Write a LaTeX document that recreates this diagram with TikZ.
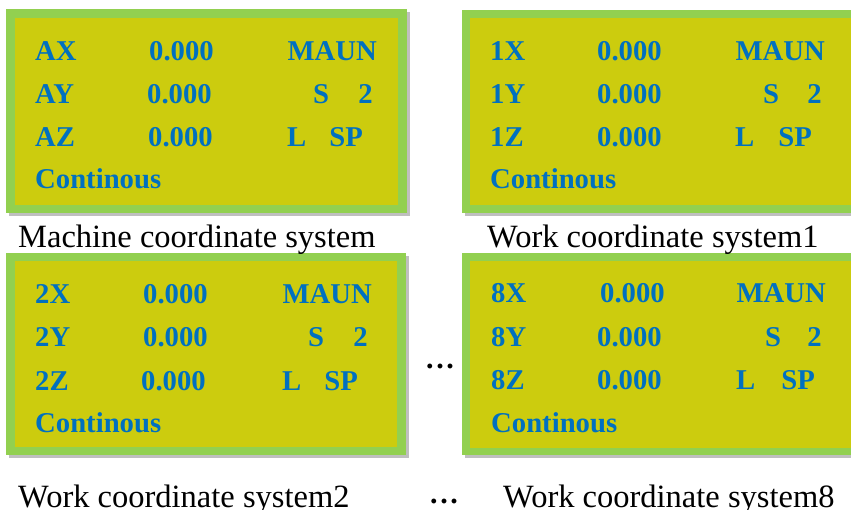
\documentclass[tikz,border=0pt]{standalone}
\usepackage{fontspec}
\setmainfont{Liberation Serif}
\definecolor{lcdbg}{HTML}{CCCC0E}
\definecolor{lcdframe}{HTML}{92D050}
\definecolor{lcdtext}{HTML}{0070C0}
\definecolor{lcdshadow}{HTML}{BFBFBF}
\tikzset{
  frame/.style={fill=lcdframe, draw=none},
  screen/.style={fill=lcdbg, draw=none},
  shadowbox/.style={fill=lcdshadow, draw=none},
  lcdt/.style={inner sep=0pt, text=lcdtext, font=\fontsize{28.7}{30}\selectfont\bfseries},
  captext/.style={inner sep=0pt, font=\fontsize{32.5}{34}\selectfont},
  dotstext/.style={inner sep=0pt, font=\fontsize{30}{32}\selectfont\bfseries},
}
\newcommand\mydots{.\kern2.6pt.\kern2.6pt.}
\begin{document}
\begin{tikzpicture}[x=1pt,y=-1pt]
\useasboundingbox (0,0) rectangle (851,510);
\clip (0,0) rectangle (851,510);
% ---- box 1 (machine)
\fill[shadowbox] (9,12) rectangle (410,216);
\fill[frame] (6,9) rectangle (407,213);
\fill[screen] (15,18) rectangle (398,205);
% ---- box 2 (work 1)
\fill[shadowbox] (465,13) rectangle (866,216);
\fill[frame] (462,10) rectangle (863,213);
\fill[screen] (470,18) rectangle (855,205);
% ---- box 3 (work 2)
\fill[shadowbox] (9,256) rectangle (409,458);
\fill[frame] (6,253) rectangle (406,455);
\fill[screen] (15,261) rectangle (397,447);
% ---- box 4 (work 8)
\fill[shadowbox] (465,256) rectangle (866,458);
\fill[frame] (462,253) rectangle (863,455);
\fill[screen] (470,261) rectangle (855,448);

% box 1 text
\node[lcdt, anchor=base west] (b1x) at (35,61) {AX};
\node[lcdt, anchor=base west] (b1xv) at (149,61) {0.000};
\node[lcdt, anchor=base east] (b1m) at (377,61) {MAUN};
\node[lcdt, anchor=base west] (b1y) at (35,104) {AY};
\node[lcdt, anchor=base west] (b1yv) at (147,104) {0.000};
\node[lcdt, anchor=base west] (b1s) at (313,104) {S};
\node[lcdt, anchor=base east] (b1n) at (373,104) {2};
\node[lcdt, anchor=base west] (b1z) at (35,147) {AZ};
\node[lcdt, anchor=base west] (b1zv) at (148,147) {0.000};
\node[lcdt, anchor=base west] (b1l) at (287,147) {L};
\node[lcdt, anchor=base east] (b1sp) at (363,147) {SP};
\node[lcdt, anchor=base west] (b1c) at (35,189) {Continous};

% box 2 text
\node[lcdt, anchor=base west] (b2x) at (490,61) {1X};
\node[lcdt, anchor=base west] (b2xv) at (597,61) {0.000};
\node[lcdt, anchor=base east] (b2m) at (825,61) {MAUN};
\node[lcdt, anchor=base west] (b2y) at (490,104) {1Y};
\node[lcdt, anchor=base west] (b2yv) at (597,104) {0.000};
\node[lcdt, anchor=base west] (b2s) at (763,104) {S};
\node[lcdt, anchor=base east] (b2n) at (822,104) {2};
\node[lcdt, anchor=base west] (b2z) at (490,147) {1Z};
\node[lcdt, anchor=base west] (b2zv) at (597,147) {0.000};
\node[lcdt, anchor=base west] (b2l) at (735,147) {L};
\node[lcdt, anchor=base east] (b2sp) at (812,147) {SP};
\node[lcdt, anchor=base west] (b2c) at (490,189) {Continous};

% box 3 text
\node[lcdt, anchor=base west] (b3x) at (35,304) {2X};
\node[lcdt, anchor=base west] (b3xv) at (143,304) {0.000};
\node[lcdt, anchor=base east] (b3m) at (372,304) {MAUN};
\node[lcdt, anchor=base west] (b3y) at (35,347) {2Y};
\node[lcdt, anchor=base west] (b3yv) at (143,347) {0.000};
\node[lcdt, anchor=base west] (b3s) at (308,347) {S};
\node[lcdt, anchor=base east] (b3n) at (368,347) {2};
\node[lcdt, anchor=base west] (b3z) at (35,390) {2Z};
\node[lcdt, anchor=base west] (b3zv) at (141,390) {0.000};
\node[lcdt, anchor=base west] (b3l) at (282,390) {L};
\node[lcdt, anchor=base east] (b3sp) at (358,390) {SP};
\node[lcdt, anchor=base west] (b3c) at (35,432) {Continous};

% box 4 text
\node[lcdt, anchor=base west] (b4x) at (491,303) {8X};
\node[lcdt, anchor=base west] (b4xv) at (600,303) {0.000};
\node[lcdt, anchor=base east] (b4m) at (826,303) {MAUN};
\node[lcdt, anchor=base west] (b4y) at (491,347) {8Y};
\node[lcdt, anchor=base west] (b4yv) at (597,347) {0.000};
\node[lcdt, anchor=base west] (b4s) at (765,347) {S};
\node[lcdt, anchor=base east] (b4n) at (822,347) {2};
\node[lcdt, anchor=base west] (b4z) at (491,389) {8Z};
\node[lcdt, anchor=base west] (b4zv) at (597,389) {0.000};
\node[lcdt, anchor=base west] (b4l) at (736,389) {L};
\node[lcdt, anchor=base east] (b4sp) at (815,389) {SP};
\node[lcdt, anchor=base west] (b4c) at (491,432) {Continous};

% captions
\node[captext, anchor=base west] (c1) at (18,248) {Machine coordinate system};
\node[captext, anchor=base west] (c2) at (487,248) {Work coordinate system1};
\node[captext, anchor=base west] (c3) at (18,507) {Work coordinate system2};
\node[captext, anchor=base west] (c4) at (503,507) {Work coordinate system8};
\node[dotstext, anchor=base west] (d2) at (430,503) {\mydots};
\node[dotstext, anchor=base west] (d1) at (426,369) {\mydots};
\end{tikzpicture}
\end{document}
